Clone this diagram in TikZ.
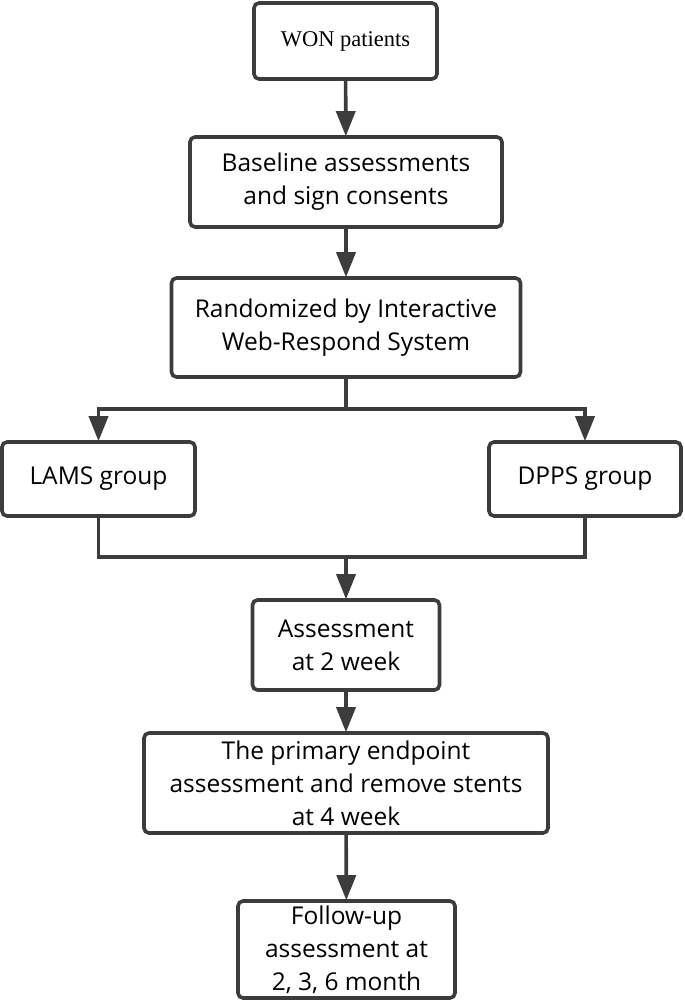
\documentclass[tikz,border=0pt]{standalone}
\usepackage{fontspec}
\setmainfont{Open Sans}
\newfontfamily\serifwon{Liberation Serif}
\usetikzlibrary{arrows.meta}
\definecolor{ink}{HTML}{3C3C3C}
\begin{document}
\begin{tikzpicture}[x=1pt,y=1pt,
  box/.style={draw=ink, line width=3.6pt, rounded corners=5pt, fill=white, align=center,
    inner sep=0pt, font=\fontsize{24.5}{33}\selectfont, text=black},
  conn/.style={draw=ink, line width=3.6pt},
  arr/.style={conn, -{Triangle[length=25pt,width=19pt]}, shorten >=-1pt}]
\useasboundingbox (0,0) rectangle (685,-1002);
\fill[white] (0,0) rectangle (685,-1002);
\node[box, minimum width=183pt, minimum height=76pt, font=\serifwon\fontsize{22.5}{26}\selectfont] (won) at (345.5,-41) {WON patients};
\node[box, minimum width=312pt, minimum height=90pt] (base) at (346,-182) {Baseline assessments\\and sign consents};
\node[box, minimum width=349pt, minimum height=99pt] (rand) at (346,-327.5) {Randomized by Interactive\\Web-Respond System};
\node[box, minimum width=193pt, minimum height=74pt] (lams) at (98.5,-479) {LAMS group};
\node[box, minimum width=192pt, minimum height=74pt] (dpps) at (585,-479) {DPPS group};
\node[box, minimum width=187pt, minimum height=90pt] (assess) at (346,-645) {Assessment\\at 2 week};
\node[box, minimum width=404pt, minimum height=100pt] (prim) at (346,-783) {The primary endpoint\\assessment and remove stents\\at 4 week};
\node[box, minimum width=217pt, minimum height=97pt] (follow) at (346.5,-949.5) {Follow-up\\assessment at\\2, 3, 6 month};
\coordinate (br) at (346,-409);
\coordinate (mg) at (346,-557);
\draw[arr] (won) -- (base);
\draw[arr] (base) -- (rand);
\draw[conn] (rand.south) -- (br);
\draw[arr] (br) -| (lams.north);
\draw[arr] (br) -| (dpps.north);
\draw[conn] (lams.south) |- (mg) -| (dpps.south);
\draw[arr] (mg) -- (assess.north);
\draw[arr] (assess) -- (prim);
\draw[arr] (prim) -- (follow);
\end{tikzpicture}
\end{document}
